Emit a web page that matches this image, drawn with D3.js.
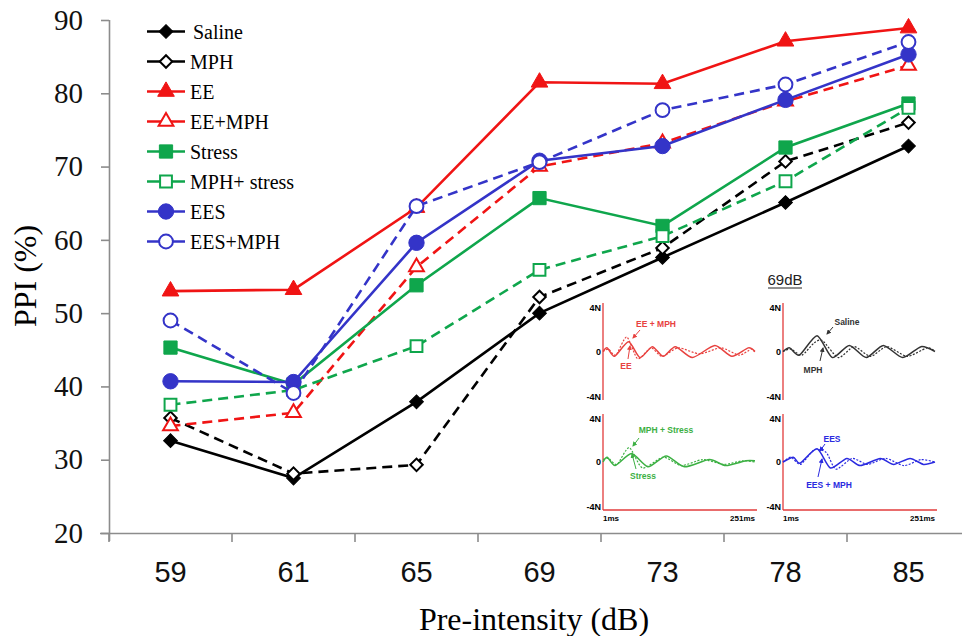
<!DOCTYPE html>
<html>
<head>
<meta charset="utf-8">
<script src="https://cdn.jsdelivr.net/npm/d3@7"></script>
<style>
  body { margin: 0; background: #fff; }
</style>
</head>
<body>
<script>
// pre-pulse intensities (x categories)
var categories = ["59", "61", "65", "69", "73", "78", "85"];
var yTicks = [20, 30, 40, 50, 60, 70, 80, 90];

// PPI (%) per group
var saline     = [32.6, 27.5, 37.9, 50.0, 57.6, 65.1, 72.8];
var mph        = [35.7, 28.1, 29.3, 52.2, 58.9, 70.7, 76.0];
var ee         = [53.0, 53.2, 64.4, 81.5, 81.3, 87.1, 88.9];
var eeMph      = [34.6, 36.4, 56.3, 70.0, 73.2, 78.9, 83.8];
var stress     = [45.3, 40.3, 53.8, 65.7, 61.9, 72.6, 78.6];
var mphStress  = [37.5, 39.5, 45.5, 55.9, 60.5, 68.0, 78.0];
var ees        = [40.7, 40.6, 59.6, 70.8, 72.8, 79.1, 85.3];
var eesMph     = [49.0, 39.1, 64.6, 70.6, 77.7, 81.2, 87.0];

var seriesNames = ["Saline", "MPH", "EE", "EE+MPH", "Stress", "MPH+ stress", "EES", "EES+MPH"];

// inset: startle waveforms at 69dB, [ms, N] turning points
var waveEE        = [[1,0],[8,0.3],[20,-0.4],[43,0.8],[62,-0.5],[82,0.4],[100,-0.4],[120,0.4],[148,-0.5],[185,0.5],[213,-0.4],[240,0.3],[251,0]];
var waveEEMph     = [[1,0],[10,0.2],[22,-0.3],[40,1.2],[58,-0.6],[80,0.3],[98,-0.4],[125,0.3],[160,-0.2],[195,0.3],[225,-0.3],[245,0.2],[251,-0.1]];
var waveSaline    = [[1,0],[12,0.3],[28,-0.3],[57,1.3],[82,-0.5],[110,0.5],[138,-0.5],[166,0.5],[198,-0.5],[228,0.4],[251,0]];
var waveMph       = [[1,0],[14,0.2],[32,-0.3],[52,0.7],[66,0.9],[92,-0.5],[118,0.4],[145,-0.4],[172,0.4],[205,-0.4],[238,0.3],[251,0]];
var waveStress    = [[1,0],[8,0.4],[21,-0.3],[48,0.7],[75,-0.4],[105,0.5],[135,-0.4],[176,0.2],[203,-0.3],[236,0.1],[251,0.1]];
var waveMphStress = [[1,0.2],[10,0.3],[24,-0.2],[44,1.2],[66,-0.5],[100,0.4],[130,-0.3],[165,0.2],[200,-0.2],[230,0.1],[251,0]];
var waveEES       = [[1,0],[18,0.4],[29,-0.1],[57,1.1],[79,-0.5],[106,0.3],[128,-0.3],[161,0.3],[183,-0.2],[210,0.3],[232,-0.2],[251,0]];
var waveEESMph    = [[1,0],[14,0.4],[30,-0.2],[52,1.0],[72,0.8],[88,-0.6],[115,0.3],[140,-0.2],[170,0.3],[200,-0.3],[228,0.2],[251,0]];

var red = "#f01414", green = "#0fa64c", blue = "#3434c8", black = "#000";

var series = [
  { name: seriesNames[0], values: saline,    color: black, dash: null, shape: "diamond",  open: false },
  { name: seriesNames[1], values: mph,       color: black, dash: "10,6", shape: "diamond", open: true },
  { name: seriesNames[2], values: ee,        color: red,   dash: null, shape: "triangle", open: false },
  { name: seriesNames[3], values: eeMph,     color: red,   dash: "10,6", shape: "triangle", open: true },
  { name: seriesNames[4], values: stress,    color: green, dash: null, shape: "square",   open: false },
  { name: seriesNames[5], values: mphStress, color: green, dash: "10,6", shape: "square", open: true },
  { name: seriesNames[6], values: ees,       color: blue,  dash: null, shape: "circle",   open: false },
  { name: seriesNames[7], values: eesMph,    color: blue,  dash: "10,6", shape: "circle", open: true }
];

var width = 962, height = 636;
var svg = d3.select("body").append("svg")
    .attr("width", width)
    .attr("height", height);

var x = d3.scaleBand().domain(categories).range([109, 970]);
var y = d3.scaleLinear().domain([20, 90]).range([533, 20]);
function cx(d, i) { return x(categories[i]) + x.bandwidth() / 2; }

// axes
var axisColor = "#8c8c8c";
var yAxis = svg.append("g")
    .attr("transform", "translate(109,0)")
    .call(d3.axisLeft(y).tickValues(yTicks).tickSize(8).tickPadding(18));
yAxis.selectAll("text")
    .style("font-family", "'Liberation Serif', 'Times New Roman', serif")
    .style("font-size", "29px")
    .attr("fill", "#111");

var xAxis = svg.append("g")
    .attr("transform", "translate(0,533)")
    .call(d3.axisBottom(x).tickSize(0).tickPadding(28));
xAxis.selectAll("text")
    .style("font-family", "'Liberation Sans Narrow', 'Liberation Sans', Arial, sans-serif")
    .style("font-size", "29px")
    .attr("fill", "#111");
xAxis.select(".domain").attr("d", "M100,0.5H962");
xAxis.selectAll(".xtick")
    .data(categories)
    .enter().append("line")
    .attr("x1", function(d) { return x(d); })
    .attr("x2", function(d) { return x(d); })
    .attr("y1", 0)
    .attr("y2", 9);
svg.selectAll(".domain, .tick line, g line")
    .attr("stroke", axisColor)
    .attr("stroke-width", 1.6);
yAxis.select(".domain").attr("d", "M0.5,20V541");

// axis titles
svg.append("text")
    .text("PPI (%)")
    .attr("transform", "translate(36,276) rotate(-90)")
    .attr("text-anchor", "middle")
    .style("font-family", "'Liberation Serif', 'Times New Roman', serif")
    .style("font-size", "32px");
svg.append("text")
    .text("Pre-intensity (dB)")
    .attr("x", 534)
    .attr("y", 630)
    .attr("text-anchor", "middle")
    .style("font-family", "'Liberation Serif', 'Times New Roman', serif")
    .style("font-size", "32px");

// inset background (white, covers nothing important)
var inset = svg.append("g");
inset.append("rect")
    .attr("x", 565).attr("y", 268)
    .attr("width", 395).attr("height", 262)
    .attr("fill", "#fff");

// marker symbols
function symbolPath(shape, open) {
  if (shape == "diamond") return d3.symbol().type(d3.symbolSquare).size(open ? 78 : 95)();
  if (shape == "triangle") return d3.symbol().type(d3.symbolTriangle).size(open ? 95 : 120)();
  if (shape == "square") return d3.symbol().type(d3.symbolSquare).size(open ? 140 : 175)();
  return d3.symbol().type(d3.symbolCircle).size(open ? 150 : 185)();
}
function drawMarker(g, s, px, py) {
  var rot = s.shape == "diamond" ? " rotate(45)" : "";
  g.append("path")
    .attr("d", symbolPath(s.shape, s.open))
    .attr("transform", "translate(" + px + "," + py + ")" + rot)
    .attr("fill", s.open ? "#fff" : s.color)
    .attr("stroke", s.color)
    .attr("stroke-width", s.open ? 2 : 1);
}

// lines and markers
var line = d3.line()
    .x(function(d, i) { return cx(d, i); })
    .y(function(d) { return y(d); });

var plot = svg.append("g");
series.forEach(function(s) {
  var g = plot.append("g");
  g.append("path")
    .attr("d", line(s.values))
    .attr("fill", "none")
    .attr("stroke", s.color)
    .attr("stroke-width", 2.6)
    .attr("stroke-dasharray", s.dash);
  s.values.forEach(function(v, i) {
    drawMarker(g, s, cx(v, i), y(v));
  });
});

// legend
var legend = svg.append("g");
series.forEach(function(s, i) {
  var ly = 31.5 + i * 30;
  legend.append("line")
    .attr("x1", 147).attr("x2", 185)
    .attr("y1", ly).attr("y2", ly)
    .attr("stroke", s.color)
    .attr("stroke-width", 2.6);
  drawMarker(legend, s, 166, ly);
  legend.append("text")
    .text(s.name)
    .attr("x", i == 0 ? 193 : 190)
    .attr("y", ly + 7)
    .style("font-family", "'Liberation Serif', 'Times New Roman', serif")
    .style("font-size", "20px");
});

// ---------- inset: waveforms ----------
var insetFont = "'Liberation Sans', Arial, sans-serif";
inset.append("text")
    .text("69dB")
    .attr("x", 785).attr("y", 285)
    .attr("text-anchor", "middle")
    .style("font-family", insetFont)
    .style("font-size", "15px")
    .attr("fill", "#222");
inset.append("line")
    .attr("x1", 768).attr("x2", 802)
    .attr("y1", 288).attr("y2", 288)
    .attr("stroke", "#222").attr("stroke-width", 1);

var panels = [
  { x0: 603, top: 303, bottom: 400, color: "#e8423f", solid: waveEE, dotted: waveEEMph, xaxis: false,
    labels: [["EE + MPH", 656, 327, 640, 330, 633, 338], ["EE", 626, 369, 628, 359, 630, 346]] },
  { x0: 783, top: 303, bottom: 400, color: "#333", solid: waveSaline, dotted: waveMph, xaxis: false,
    labels: [["Saline", 847, 325, 833, 327, 827, 334], ["MPH", 813, 373, 820, 361, 823, 348]] },
  { x0: 603, top: 414, bottom: 510, color: "#3cb043", solid: waveStress, dotted: waveMphStress, xaxis: true,
    labels: [["MPH + Stress", 666, 433, 639, 438, 633, 446], ["Stress", 643, 479, 636, 469, 632, 454]] },
  { x0: 783, top: 414, bottom: 510, color: "#2a2ae0", solid: waveEES, dotted: waveEESMph, xaxis: true,
    labels: [["EES", 832, 442, 825, 444, 820, 451], ["EES + MPH", 829, 488, 818, 477, 822, 459]] }
];

panels.forEach(function(p, k) {
  var t = d3.scaleLinear().domain([1, 251]).range([p.x0, p.x0 + 152]);
  var n = d3.scaleLinear().domain([-4, 4]).range([p.bottom, p.top]);
  var g = inset.append("g");

  // arrow head marker
  var mid = "arrow" + k;
  svg.append("defs").append("marker")
    .attr("id", mid)
    .attr("viewBox", "0 0 10 10")
    .attr("refX", 8).attr("refY", 5)
    .attr("markerWidth", 5).attr("markerHeight", 5)
    .attr("orient", "auto")
    .append("path").attr("d", "M0,0L10,5L0,10z").attr("fill", p.color);

  g.append("line")
    .attr("x1", p.x0).attr("x2", p.x0)
    .attr("y1", p.top).attr("y2", p.bottom)
    .attr("stroke", "#e23b3b").attr("stroke-width", 1.3);
  if (p.xaxis) {
    g.append("line")
      .attr("x1", p.x0).attr("x2", p.x0 + 154)
      .attr("y1", p.bottom).attr("y2", p.bottom)
      .attr("stroke", "#e23b3b").attr("stroke-width", 1.3);
    g.append("text").text("1ms")
      .attr("x", p.x0).attr("y", p.bottom + 11)
      .style("font-family", insetFont).style("font-size", "8px").style("font-weight", "bold");
    g.append("text").text("251ms")
      .attr("x", p.x0 + 152).attr("y", p.bottom + 11)
      .attr("text-anchor", "end")
      .style("font-family", insetFont).style("font-size", "8px").style("font-weight", "bold");
  }
  [[4, "4N"], [0, "0"], [-4, "-4N"]].forEach(function(tk) {
    g.append("text").text(tk[1])
      .attr("x", p.x0 - 2)
      .attr("y", tk[0] == 4 ? p.top + 8 : (tk[0] == 0 ? n(0) + 3 : p.bottom))
      .attr("text-anchor", "end")
      .style("font-family", insetFont).style("font-size", "9px").style("font-weight", "bold");
  });

  var wave = d3.line()
      .x(function(d) { return t(d[0]); })
      .y(function(d) { return n(d[1]); })
      .curve(d3.curveCardinal.tension(0.3));
  g.append("path").attr("d", wave(p.dotted))
    .attr("fill", "none").attr("stroke", p.color)
    .attr("stroke-width", 1.2).attr("stroke-dasharray", "2,1.5");
  g.append("path").attr("d", wave(p.solid))
    .attr("fill", "none").attr("stroke", p.color)
    .attr("stroke-width", 1.5);

  p.labels.forEach(function(lb) {
    g.append("text").text(lb[0])
      .attr("x", lb[1]).attr("y", lb[2])
      .attr("text-anchor", "middle")
      .attr("fill", p.color)
      .style("font-family", insetFont).style("font-size", "8.5px").style("font-weight", "bold");
    g.append("line")
      .attr("x1", lb[3]).attr("y1", lb[4])
      .attr("x2", lb[5]).attr("y2", lb[6])
      .attr("stroke", p.color).attr("stroke-width", 1)
      .attr("marker-end", "url(#" + mid + ")");
  });
});
</script>
</body>
</html>
